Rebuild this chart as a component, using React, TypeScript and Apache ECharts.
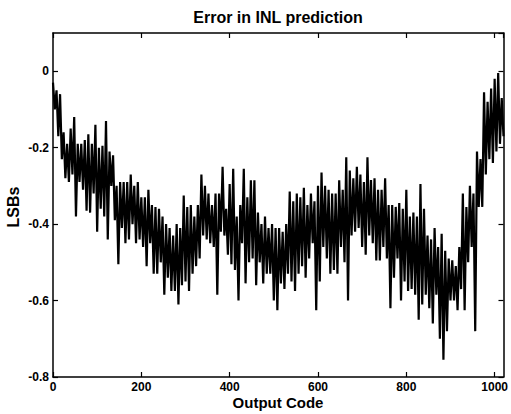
import React, { useEffect, useRef } from "react";
import * as echarts from "echarts";

// Envelope of the INL error trace, read per 8-code bin (upper at code 8i, lower at code 8i+4)
const upper: number[] = [
  -0.03, -0.05, -0.06, -0.16, -0.19, -0.15, -0.12, -0.19,
  -0.19, -0.18, -0.165, -0.19, -0.14, -0.2, -0.195, -0.13,
  -0.21, -0.22, -0.3, -0.29, -0.29, -0.29, -0.27, -0.3,
  -0.29, -0.33, -0.33, -0.31, -0.35, -0.355, -0.36, -0.38,
  -0.4, -0.41, -0.43, -0.4, -0.41, -0.325, -0.355, -0.35,
  -0.38, -0.35, -0.27, -0.3, -0.32, -0.35, -0.32, -0.32,
  -0.25, -0.36, -0.295, -0.255, -0.38, -0.35, -0.255, -0.33,
  -0.285, -0.285, -0.37, -0.4, -0.38, -0.41, -0.4, -0.41,
  -0.41, -0.42, -0.4, -0.315, -0.34, -0.32, -0.33, -0.305,
  -0.35, -0.32, -0.34, -0.3, -0.265, -0.3, -0.31, -0.32,
  -0.32, -0.285, -0.31, -0.225, -0.26, -0.28, -0.25, -0.27,
  -0.29, -0.225, -0.285, -0.28, -0.31, -0.31, -0.28, -0.35,
  -0.35, -0.355, -0.345, -0.36, -0.31, -0.38, -0.37, -0.38,
  -0.295, -0.36, -0.43, -0.44, -0.41, -0.46, -0.425, -0.47,
  -0.49, -0.495, -0.51, -0.46, -0.32, -0.355, -0.3, -0.32,
  -0.21, -0.23, -0.055, -0.08, -0.045, -0.02, -0.005, -0.07,
];

const lower: number[] = [
  -0.1, -0.17, -0.23, -0.28, -0.29, -0.27, -0.38, -0.29,
  -0.31, -0.365, -0.37, -0.32, -0.42, -0.36, -0.38, -0.44,
  -0.3, -0.39, -0.505, -0.41, -0.45, -0.44, -0.4, -0.45,
  -0.44, -0.46, -0.51, -0.45, -0.53, -0.53, -0.5, -0.585,
  -0.54, -0.575, -0.575, -0.61, -0.56, -0.55, -0.575, -0.53,
  -0.51, -0.49, -0.43, -0.44, -0.45, -0.46, -0.585, -0.42,
  -0.43, -0.48, -0.505, -0.52, -0.6, -0.45, -0.555, -0.5,
  -0.49, -0.56, -0.5, -0.555, -0.53, -0.53, -0.6, -0.625,
  -0.555, -0.57, -0.53, -0.55, -0.575, -0.53, -0.51, -0.54,
  -0.49, -0.45, -0.625, -0.55, -0.46, -0.49, -0.53, -0.52,
  -0.53, -0.46, -0.5, -0.6, -0.43, -0.42, -0.41, -0.46,
  -0.48, -0.43, -0.45, -0.495, -0.495, -0.46, -0.49, -0.62,
  -0.54, -0.49, -0.6, -0.55, -0.575, -0.57, -0.585, -0.65,
  -0.61, -0.585, -0.62, -0.66, -0.585, -0.7, -0.755, -0.68,
  -0.6, -0.6, -0.625, -0.57, -0.625, -0.5, -0.46, -0.68,
  -0.355, -0.355, -0.27, -0.23, -0.24, -0.21, -0.19, -0.17,
];

const binWidth = 8;
const xTicks = [0, 200, 400, 600, 800, 1000];
const yTicks = [-0.8, -0.6, -0.4, -0.2, 0];

const titleText = "Error in INL prediction";
const xName = "Output Code";
const yName = "LSBs";

const FONT = "'Liberation Sans', Arial, Helvetica, sans-serif";

export default function App() {
  const ref = useRef<HTMLDivElement>(null);

  useEffect(() => {
    if (!ref.current) return;
    const chart = echarts.init(ref.current, undefined, { renderer: "svg" });

    const data: [number, number][] = [];
    for (let i = 0; i < upper.length; i++) {
      data.push([i * binWidth, upper[i]]);
      data.push([i * binWidth + binWidth / 2, lower[i]]);
    }

    const axisLine = { show: true, onZero: false, lineStyle: { color: "#000", width: 1.5 } };
    const axisTick = { show: true, inside: true, length: 5, lineStyle: { color: "#000", width: 1.2 } };
    const labelStyle = { color: "#000", fontFamily: FONT, fontSize: 12, fontWeight: "bold" as const };

    const xBase = {
      type: "value" as const,
      min: 0,
      max: 1020,
      interval: 200,
      splitLine: { show: false },
      axisLine,
      axisTick,
    };
    const yBase = {
      type: "value" as const,
      min: -0.8,
      max: 0.1,
      interval: 0.2,
      splitLine: { show: false },
      axisLine,
      axisTick,
    };

    chart.setOption({
      animation: false,
      backgroundColor: "#fff",
      grid: { left: 53, right: 6, top: 33, bottom: 37, containLabel: false },
      xAxis: [
        {
          ...xBase,
          position: "bottom",
          axisLabel: {
            ...labelStyle,
            margin: 4,
            showMaxLabel: false,
            formatter: (v: number) => (xTicks.includes(v) ? String(v) : ""),
          },
        },
        { ...xBase, position: "top", axisLabel: { show: false } },
      ],
      yAxis: [
        {
          ...yBase,
          position: "left",
          axisLabel: {
            ...labelStyle,
            margin: 4,
            showMaxLabel: false,
            formatter: (v: number) => {
              const r = Math.round(v * 10) / 10;
              return yTicks.some((t) => Math.abs(t - r) < 1e-9) ? String(r) : "";
            },
          },
        },
        { ...yBase, position: "right", axisLabel: { show: false } },
      ],
      series: [
        {
          type: "line",
          data,
          xAxisIndex: 0,
          yAxisIndex: 0,
          showSymbol: false,
          symbol: "none",
          lineStyle: { color: "#000", width: 2.2, join: "miter", miterLimit: 2 },
          silent: true,
        },
      ],
      graphic: [
        {
          type: "text",
          x: 278,
          y: 17,
          style: {
            text: titleText,
            fill: "#000",
            font: `bold 16px ${FONT}`,
            textAlign: "center",
            textVerticalAlign: "middle",
          },
        },
        {
          type: "text",
          x: 278,
          y: 402,
          style: {
            text: xName,
            fill: "#000",
            font: `bold 15px ${FONT}`,
            textAlign: "center",
            textVerticalAlign: "middle",
          },
        },
        {
          type: "text",
          x: 13,
          y: 207,
          rotation: Math.PI / 2,
          style: {
            text: yName,
            fill: "#000",
            font: `bold 16px ${FONT}`,
            textAlign: "center",
            textVerticalAlign: "middle",
          },
        },
      ],
    });

    return () => chart.dispose();
  }, []);

  return <div ref={ref} style={{ width: 511, height: 414, position: "absolute", left: 0, top: 0 }} />;
}
